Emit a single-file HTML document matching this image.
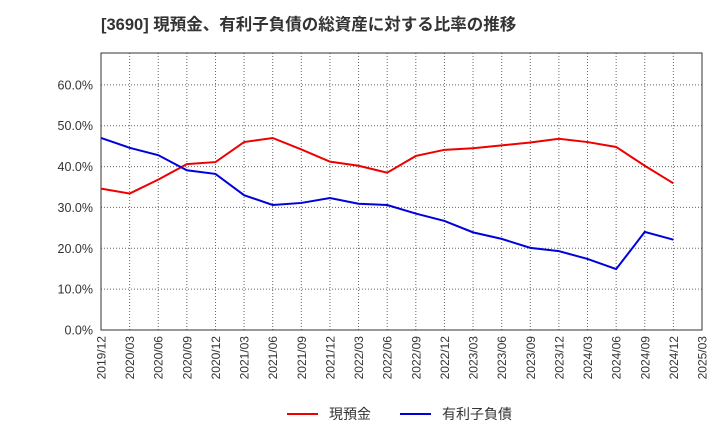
<!DOCTYPE html>
<html><head><meta charset="utf-8"><style>
body{margin:0;background:#fff;font-family:"Liberation Sans","Noto Sans CJK JP",sans-serif}
</style></head><body>
<svg id="c" width="720" height="440" xmlns="http://www.w3.org/2000/svg">
<text x="101" y="30" font-size="16.5" font-weight="bold" fill="#333" font-family="Liberation Sans, Noto Sans CJK JP, sans-serif">[3690]  現預金、有利子負債の総資産に対する比率の推移</text>
<g id="grid"></g><g id="axes"></g><g id="series"></g>
<g>
<line x1="287" y1="414" x2="318" y2="414" stroke="#e00" stroke-width="2"/>
<text x="329" y="419" font-size="14" fill="#333">現預金</text>
<line x1="400" y1="414" x2="431" y2="414" stroke="#00d" stroke-width="2"/>
<text x="442" y="419" font-size="14" fill="#333">有利子負債</text>
</g>
</svg>
<script>
const categories=["2019/12","2020/03","2020/06","2020/09","2020/12","2021/03","2021/06","2021/09","2021/12","2022/03","2022/06","2022/09","2022/12","2023/03","2023/06","2023/09","2023/12","2024/03","2024/06","2024/09","2024/12","2025/03"];
const cashValues=[34.6,33.4,36.8,40.6,41.1,46.0,47.0,44.2,41.2,40.2,38.5,42.6,44.1,44.5,45.2,45.9,46.8,46.0,44.8,40.2,35.9];
const debtValues=[47.0,44.6,42.8,39.1,38.2,33.0,30.6,31.1,32.3,30.9,30.6,28.5,26.7,23.9,22.3,20.1,19.3,17.4,14.9,24.0,22.1];
const yTicks=[0,10,20,30,40,50,60];
const L=101,R=702,T=53,B=330,YMAX=67.8;
const NS="http://www.w3.org/2000/svg";
const xS=i=>L+(R-L)*i/(categories.length-1);
const yS=v=>B-(B-T)*v/YMAX;
function mk(t,a,p){const e=document.createElementNS(NS,t);for(const k in a)e.setAttribute(k,a[k]);p.appendChild(e);return e;}
const g=document.getElementById('grid'),ax=document.getElementById('axes'),s=document.getElementById('series');
categories.forEach((c,i)=>{
 const x=xS(i);
 const l=mk('line',{x1:x,x2:x,y1:T,y2:B,stroke:'#666','stroke-dasharray':'1,2','stroke-width':1},g);
 
 
 const t=mk('text',{x:0,y:0,'font-size':12,fill:'#333','text-anchor':'end',transform:`translate(${x+4.5},${B+6}) rotate(-90)`},ax);
 t.textContent=c;
 
 
});
yTicks.forEach(v=>{
 const y=yS(v);
 const l=mk('line',{x1:L,x2:R,y1:y,y2:y,stroke:'#666','stroke-dasharray':'1,2','stroke-width':1},g);
 
 
 const t=mk('text',{x:L-8,y:y+4.5,'font-size':12.5,fill:'#333','text-anchor':'end'},ax);
 t.textContent=v.toFixed(1)+'%';
 
 
});
const fr=mk('rect',{x:L,y:T,width:R-L,height:B-T,fill:'none',stroke:'#333','stroke-width':1},ax);


function line(vals,col,name){
 const p=mk('polyline',{points:vals.map((v,i)=>xS(i)+','+yS(v)).join(' '),fill:'none',stroke:col,'stroke-width':2},s);
 
 
}
line(cashValues,'#e00','cash-line');
line(debtValues,'#00d','debt-line');
</script>
</body></html>
